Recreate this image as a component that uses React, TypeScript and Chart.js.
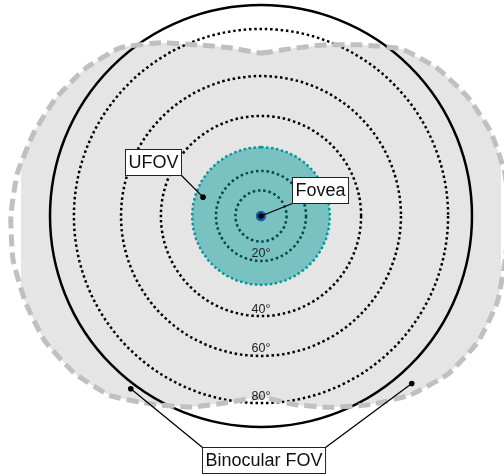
import React, { useEffect, useRef } from 'react';
import { Chart, registerables } from 'chart.js';

Chart.register(...registerables);

// Direction around the centre, degrees clockwise from straight up
const FOV_ANGLES = [0, 10, 20, 30, 40, 50, 60, 70, 80, 90, 100, 110, 120, 130, 140, 150, 160, 170,
  180, 190, 200, 210, 220, 230, 240, 250, 260, 270, 280, 290, 300, 310, 320, 330, 340, 350];
// Binocular field of view extent (eccentricity, degrees) along each direction
const FOV_RADIUS = [69.5, 72.5, 77.6, 84.3, 93.0, 98.1, 101.7, 104.4, 105.6, 105.8, 105.8, 107.3,
  107.0, 104.5, 99.5, 92.9, 86.8, 81.7, 77.2, 80.8, 86.7, 92.7, 100.0, 104.1, 106.5, 107.0, 107.4,
  106.7, 105.5, 103.2, 100.9, 97.8, 93.6, 85.3, 77.6, 72.8];

// Dotted eccentricity rings (as drawn) and their labels
const RING_RADIUS = [10.9, 19.2, 42.7, 59.7, 79.8];
const RING_LABELS = ['', '20°', '40°', '60°', '80°'];
const OUTER_RADIUS = 90; // solid circle
const UFOV_RADIUS = 29.4;
const FOVEA_ECC = 0;

// Callout anchors: [direction (deg), eccentricity]
const UFOV_ANCHOR = [288, 26];
const FOVEA_ANCHOR = [0, 0];
const BINO_ANCHORS = [[217, 92.3], [138, 96.1]];

const LABEL_FONT = '"Liberation Sans", Arial, Helvetica, sans-serif';

type Callout = {
  text: string;
  cx: number;
  cy: number;
  links: { corner: [number, number]; target: number[]; dot: boolean }[];
};

const CALLOUTS: Callout[] = [
  { text: 'UFOV', cx: 153, cy: 162, links: [{ corner: [1, 1], target: UFOV_ANCHOR, dot: true }] },
  { text: 'Fovea', cx: 320.5, cy: 190, links: [{ corner: [-1, 1], target: FOVEA_ANCHOR, dot: false }] },
  {
    text: 'Binocular FOV', cx: 264, cy: 460,
    links: [
      { corner: [-1, -1], target: BINO_ANCHORS[0], dot: true },
      { corner: [1, -1], target: BINO_ANCHORS[1], dot: true },
    ],
  },
];

const calloutPlugin = {
  id: 'callouts',
  afterDatasetsDraw(chart: any) {
    const r = chart.scales.r;
    const ctx = chart.ctx as CanvasRenderingContext2D;
    const pos = (deg: number, v: number) => {
      const a = (deg * Math.PI) / 180 - Math.PI / 2;
      const d = r.getDistanceFromCenterForValue(v);
      return { x: r.xCenter + Math.cos(a) * d, y: r.yCenter + Math.sin(a) * d };
    };
    ctx.save();
    // ring labels below the centre
    ctx.font = `12.5px ${LABEL_FONT}`;
    ctx.fillStyle = '#222';
    ctx.textAlign = 'center';
    ctx.textBaseline = 'middle';
    RING_RADIUS.forEach((v, i) => {
      if (!RING_LABELS[i]) return;
      const p = pos(180, v);
      ctx.fillText(RING_LABELS[i], p.x, p.y - 7);
    });

    ctx.font = `18px ${LABEL_FONT}`;
    CALLOUTS.forEach((c) => {
      const w = ctx.measureText(c.text).width + 6;
      const h = 26;
      const left = Math.round(c.cx - w / 2) + 0.5;
      const top = Math.round(c.cy - h / 2) + 0.5;
      c.links.forEach((l) => {
        const cxp = l.corner[0] < 0 ? left : left + w;
        const cyp = l.corner[1] < 0 ? top : top + h;
        const t = pos(l.target[0], l.target[1]);
        ctx.beginPath();
        ctx.strokeStyle = '#000';
        ctx.lineWidth = 1.3;
        ctx.moveTo(cxp, cyp);
        ctx.lineTo(t.x, t.y);
        ctx.stroke();
        if (l.dot) {
          ctx.beginPath();
          ctx.fillStyle = '#000';
          ctx.arc(t.x, t.y, 2.8, 0, Math.PI * 2);
          ctx.fill();
        }
      });
      ctx.fillStyle = '#fff';
      ctx.fillRect(left, top, w, h);
      ctx.strokeStyle = '#222';
      ctx.lineWidth = 1;
      ctx.strokeRect(left, top, w, h);
      ctx.fillStyle = '#111';
      ctx.textAlign = 'center';
      ctx.textBaseline = 'middle';
      ctx.fillText(c.text, left + w / 2, top + h / 2 + 1);
    });
    ctx.restore();
  },
};

export default function App() {
  const ref = useRef<HTMLCanvasElement | null>(null);

  useEffect(() => {
    if (!ref.current) return;
    const labels = FOV_ANGLES.map((a) => String(a));
    const chart = new Chart(ref.current, {
      type: 'radar',
      data: {
        labels,
        datasets: [
          {
            label: 'Fovea',
            data: [FOVEA_ECC],
            showLine: false,
            pointRadius: 4,
            pointBorderWidth: 2.4,
            pointBackgroundColor: '#000',
            pointBorderColor: '#0e5ca8',
            borderWidth: 0,
            fill: false,
          },
          {
            label: 'UFOV',
            data: labels.map(() => UFOV_RADIUS),
            backgroundColor: 'rgba(0,150,150,0.47)',
            borderColor: '#009a9a',
            borderWidth: 2.5,
            borderDash: [2.5, 2.5],
            pointRadius: 0,
            fill: true,
            tension: 0,
          },
          {
            label: 'Binocular FOV',
            data: FOV_RADIUS,
            backgroundColor: 'rgba(0,0,0,0.1)',
            borderColor: '#c0c0c0',
            borderWidth: 5,
            borderDash: [12, 6],
            pointRadius: 0,
            fill: true,
            tension: 0.15,
            clip: false,
          } as any,
        ],
      },
      options: {
        animation: false,
        responsive: false,
        maintainAspectRatio: false,
        devicePixelRatio: 1,
        layout: { padding: { left: 21, right: 3, top: 5, bottom: 48 } },
        plugins: { legend: { display: false }, tooltip: { enabled: false } },
        scales: {
          r: {
            min: 0,
            max: OUTER_RADIUS,
            startAngle: 0,
            angleLines: { display: false },
            pointLabels: { display: false },
            ticks: { display: false },
            afterBuildTicks: (scale: any) => {
              scale.ticks = [0, ...RING_RADIUS, OUTER_RADIUS].map((v) => ({ value: v }));
            },
            grid: {
              circular: true,
              color: '#000',
              lineWidth: 2.5,
            },
            border: {
              dash: (c: any) => (c.tick && c.tick.value === OUTER_RADIUS ? [] : [2.5, 2.8]),
            },
          } as any,
        },
      },
      plugins: [calloutPlugin],
    });
    return () => chart.destroy();
  }, []);

  return (
    <div style={{ position: 'absolute', left: 0, top: 0, width: 504, height: 475, background: '#fff' }}>
      <canvas ref={ref} width={504} height={475} style={{ display: 'block' }} />
    </div>
  );
}
